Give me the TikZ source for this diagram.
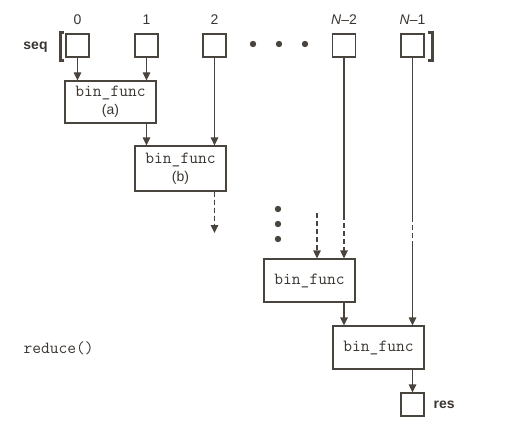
\documentclass[tikz,border=0pt]{standalone}
\usepackage{fontspec}
\setmainfont{Liberation Sans}
\usetikzlibrary{arrows.meta}
\definecolor{ink}{HTML}{4A443E}
\definecolor{txt}{HTML}{3A3530}
\newcommand{\bfn}{{\ttfamily\fontsize{17}{19}\selectfont bin\_func}}
\begin{document}
\begin{tikzpicture}[x=1pt,y=-1pt,color=ink,line width=1.2pt,
  cell/.style={draw=ink,line width=1.2pt,minimum width=23pt,minimum height=23pt,inner sep=0pt},
  fbox/.style={draw=ink,line width=1.2pt,minimum width=91pt,minimum height=43pt,inner sep=0pt,align=center,text=txt,font=\fontsize{14}{18}\selectfont},
  lab/.style={text=txt,font=\fontsize{14}{16}\selectfont,inner sep=0pt},
  mono/.style={text=txt,font=\ttfamily\fontsize{17}{19}\selectfont,inner sep=0pt},
  arr/.style={-{Triangle[width=7.5pt,length=8pt]},draw=ink,line width=1.2pt},
  dsh/.style={dash pattern=on 5pt off 3pt},
  dot/.style={fill=ink,draw=none}]
\useasboundingbox (0,0) rectangle (525,428);
% sequence cells
\node[cell] (s0) at (77.5,45.5) {};
\node[cell] (s1) at (146.5,45.5) {};
\node[cell] (s2) at (214.5,45.5) {};
\node[cell] (sN2) at (344,45.5) {};
\node[cell] (sN1) at (412.5,45.5) {};
% indices
\node[lab] (i0) at (77.5,20) {0};
\node[lab] (i1) at (146.5,20) {1};
\node[lab] (i2) at (214.5,20) {2};
\node[lab] (iN2) at (344,20) {\textit{N}–2};
\node[lab] (iN1) at (412.5,20) {\textit{N}–1};
\node[lab,font=\bfseries\fontsize{14}{16}\selectfont] (seq) at (35.5,47) {seq};
% brackets
\draw[line width=3pt] (64,32.5) -- (60,32.5) -- (60,60.5) -- (64,60.5);
\draw[line width=3pt] (428,32.5) -- (432,32.5) -- (432,60.5) -- (428,60.5);
% horizontal dots
\fill[dot] (253,44) circle (3.2);
\fill[dot] (279,44) circle (3.2);
\fill[dot] (305,44) circle (3.2);
% function boxes
\node[fbox,minimum height=42pt] (fa) at (110.5,102) {\bfn\\(a)};
\node[fbox,minimum height=45pt] (fb) at (180.5,168.5) {\bfn\\(b)};
\node[fbox] (fc) at (309.5,280.5) {\bfn};
\node[fbox] (fd) at (378.5,347.5) {\bfn};
\node[cell] (res) at (412.5,404.5) {};
\node[lab,font=\bfseries\fontsize{14}{16}\selectfont,anchor=west] (reslab) at (433,405) {res};
\node[mono,anchor=west] (red) at (23,348) {reduce()};
% vertical dots
\fill[dot] (278,209) circle (3.2);
\fill[dot] (278,224) circle (3.2);
\fill[dot] (278,239) circle (3.2);
% connectors
\draw[arr] (s0.south) -- (s0.south |- fa.north);
\draw[arr] (s1.south) -- (s1.south |- fa.north);
\draw[arr] (s1.south |- fa.south) -- (s1.south |- fb.north);
\draw[arr] (s2.south) -- (s2.south |- fb.north);
\coordinate (bend) at (214.5,233);
\draw[arr,dsh] (s2.south |- fb.south) -- (bend);
\coordinate (cin) at (317,213);
\draw[arr,dsh] (cin) -- (cin |- fc.north);
\coordinate (n2a) at (344,215);
\draw (sN2.south) -- (n2a);
\draw[arr,dsh] (n2a) -- (n2a |- fc.north);
\coordinate (n1a) at (412.5,217);
\coordinate (n1b) at (412.5,245);
\draw (sN1.south) -- (n1a);
\draw[dsh] (n1a) -- (n1b);
\draw[arr] (n1b) -- (n1b |- fd.north);
\draw[arr] (sN2.south |- fc.south) -- (sN2.south |- fd.north);
\draw[arr] (fd.south -| res) -- (res.north);
\end{tikzpicture}
\end{document}
